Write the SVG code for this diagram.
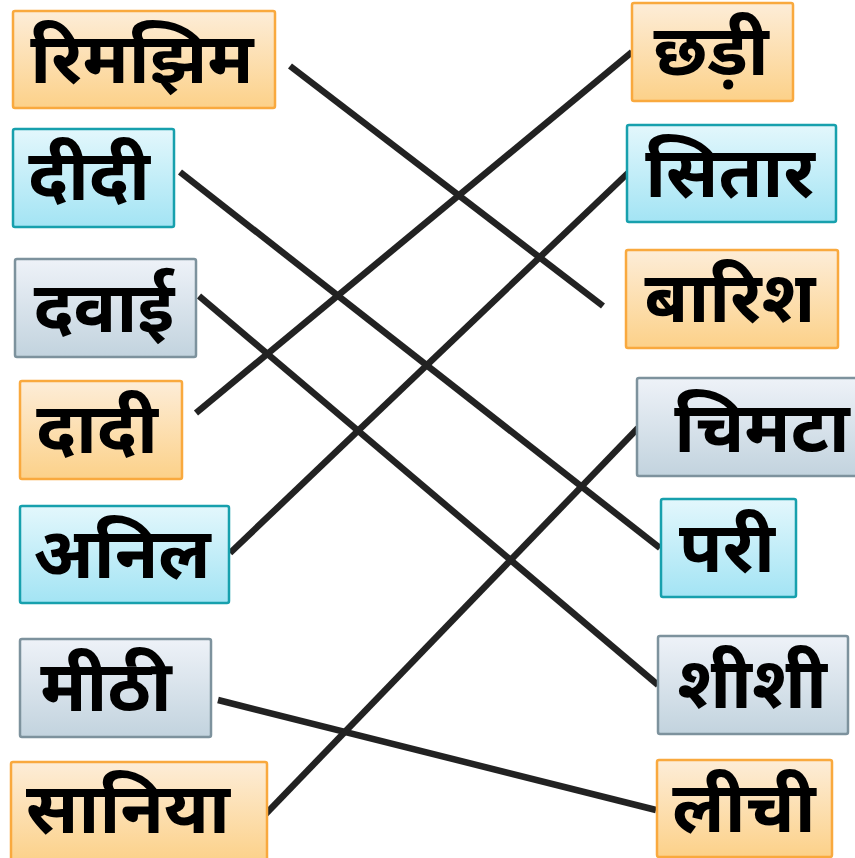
<svg xmlns="http://www.w3.org/2000/svg" width="855" height="858" viewBox="0 0 855 858">
<defs>
<linearGradient id="gO" x1="0" y1="0" x2="0" y2="1"><stop offset="0" stop-color="#fdedd8"/><stop offset="1" stop-color="#fcd189"/></linearGradient>
<linearGradient id="gC" x1="0" y1="0" x2="0" y2="1"><stop offset="0" stop-color="#e3f7fc"/><stop offset="1" stop-color="#a3e4f4"/></linearGradient>
<linearGradient id="gG" x1="0" y1="0" x2="0" y2="1"><stop offset="0" stop-color="#eef2f8"/><stop offset="1" stop-color="#c2d3de"/></linearGradient>
</defs>
<style>
.o{fill:url(#gO);stroke:#f9a93e;stroke-width:2.5}
.c{fill:url(#gC);stroke:#17a0ad;stroke-width:2.5}
.g{fill:url(#gG);stroke:#7d929d;stroke-width:2.5}
text{font-family:"Noto Sans","Noto Sans Devanagari","Lohit Devanagari","Nirmala UI",Mangal,sans-serif;font-weight:bold;font-size:71px;fill:#000;text-anchor:middle}
.ln{stroke:#222;stroke-width:6.5;stroke-linecap:butt}
</style>
<rect width="855" height="858" fill="#fff"/>
<g id="connectors">
<line class="ln" x1="290" y1="66" x2="603" y2="306"/>
<line class="ln" x1="180" y1="172" x2="660" y2="548"/>
<line class="ln" x1="199" y1="296" x2="658" y2="685"/>
<line class="ln" x1="196" y1="413" x2="632" y2="52"/>
<line class="ln" x1="230" y1="553" x2="628" y2="173"/>
<line class="ln" x1="218" y1="700" x2="656" y2="810"/>
<line class="ln" x1="258" y1="822" x2="638" y2="428"/>
</g>
<g id="n-rimjhim"><rect class="o" x="13" y="11" width="262" height="97" rx="2"/><text x="142" y="83">रिमझिम</text></g>
<g id="n-didi"><rect class="c" x="13" y="129" width="161" height="98" rx="2"/><text x="89" y="200">दीदी</text></g>
<g id="n-dawai"><rect class="g" x="15" y="259" width="181" height="98" rx="2"/><text x="104" y="332">दवाई</text></g>
<g id="n-dadi"><rect class="o" x="20" y="381" width="162" height="98" rx="2"/><text x="97" y="453">दादी</text></g>
<g id="n-anil"><rect class="c" x="20" y="506" width="209" height="97" rx="2"/><text x="122" y="578">अनिल</text></g>
<g id="n-meethi"><rect class="g" x="20" y="639" width="191" height="98" rx="2"/><text x="106" y="711">मीठी</text></g>
<g id="n-saniya"><rect class="o" x="11" y="762" width="256" height="100" rx="2"/><text x="128" y="833">सानिया</text></g>
<g id="n-chhadi"><rect class="o" x="632" y="3" width="161" height="98" rx="2"/><text x="711" y="75">छड़ी</text></g>
<g id="n-sitar"><rect class="c" x="627" y="125" width="209" height="97" rx="2"/><text x="730" y="197">सितार</text></g>
<g id="n-barish"><rect class="o" x="626" y="250" width="212" height="98" rx="2"/><text x="730" y="322">बारिश</text></g>
<g id="n-chimta"><rect class="g" x="637" y="378" width="225" height="98" rx="2"/><text x="762" y="452">चिमटा</text></g>
<g id="n-pari"><rect class="c" x="661" y="499" width="135" height="98" rx="2"/><text x="727" y="572">परी</text></g>
<g id="n-sheeshi"><rect class="g" x="658" y="636" width="190" height="98" rx="2"/><text x="752" y="708">शीशी</text></g>
<g id="n-lichi"><rect class="o" x="657" y="760" width="175" height="97" rx="2"/><text x="744" y="832">लीची</text></g>
</svg>
